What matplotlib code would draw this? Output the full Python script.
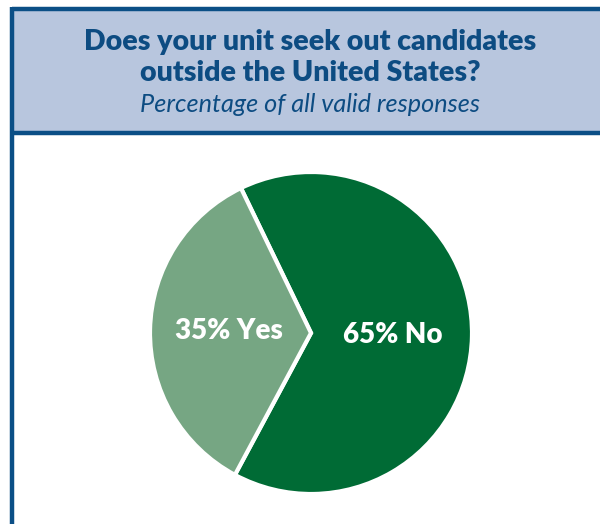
import matplotlib
matplotlib.use("Agg")
import matplotlib.pyplot as plt
from matplotlib.patches import Rectangle

categories = ["No", "Yes"]
values = [65, 35]
colors = ["#006b35", "#76a683"]
title_lines = ["Does your unit seek out candidates", "outside the United States?"]
subtitle = "Percentage of all valid responses"

W, H = 600, 524
fig = plt.figure(figsize=(W / 100, H / 100), dpi=100)
ax = fig.add_axes([0, 0, 1, 1])
ax.set_xlim(0, W)
ax.set_ylim(0, H)
ax.set_aspect("equal")
ax.axis("off")

border = "#0b4f86"
# header box
ax.add_patch(Rectangle((11.5, H - 132.5), W, 123, facecolor="#b8c6de",
                       edgecolor="none", zorder=1))
ax.plot([11.5, W], [H - 9, H - 9], color=border, lw=3.2, solid_capstyle="butt", zorder=2)
ax.plot([11.5, W], [H - 133, H - 133], color=border, lw=3.2, solid_capstyle="butt", zorder=2)
ax.plot([11.5, 11.5], [0, H - 7.4], color=border, lw=3.2, solid_capstyle="butt", zorder=2)

ax.text(310, H - 42, title_lines[0], ha="center", va="center", fontsize=20.5,
        fontweight="heavy", family="Lato", color="#0d4c82")
ax.text(310, H - 73, title_lines[1], ha="center", va="center", fontsize=20.5,
        fontweight="heavy", family="Lato", color="#0d4c82")
ax.text(310, H - 104, subtitle, ha="center", va="center", fontsize=18.2,
        style="italic", family="Lato", color="#0d4c82")

wedges, texts = ax.pie(values, colors=colors, startangle=-118.2, counterclock=True,
                       center=(311, H - 333), radius=161,
                       labels=[f"{v}% {c}" for v, c in zip(values, categories)],
                       labeldistance=0.51,
                       wedgeprops=dict(edgecolor="white", linewidth=3),
                       textprops=dict(color="white", fontsize=20, fontweight="heavy",
                                      family="Lato"))
for t in texts:
    t.set_ha("center")
    t.set_va("center")

ax.set_xlim(0, W)
ax.set_ylim(0, H)

fig.savefig("out.png", dpi=100)
